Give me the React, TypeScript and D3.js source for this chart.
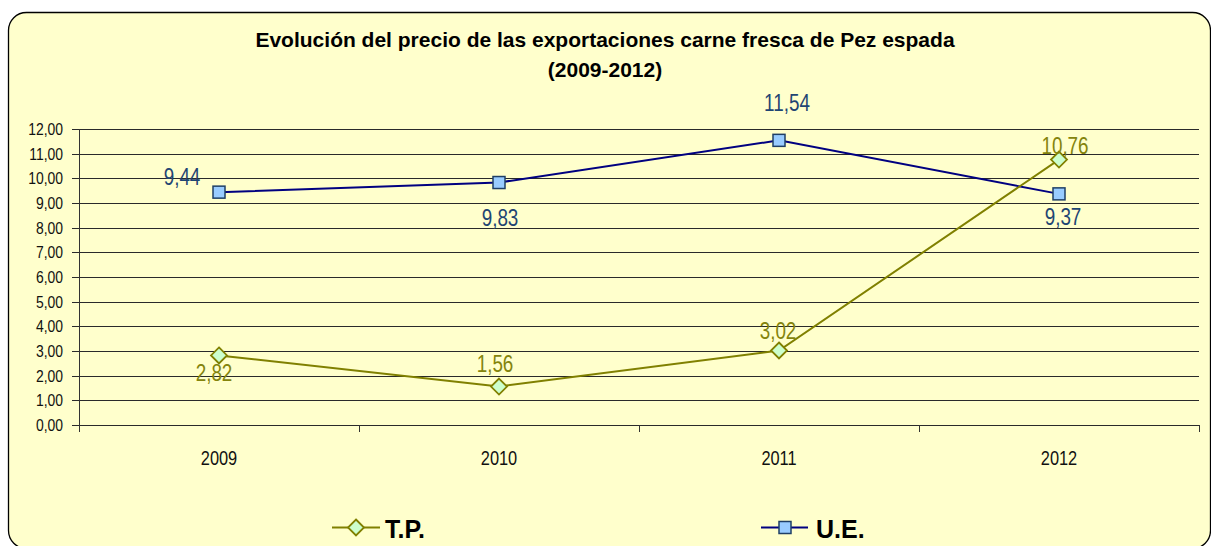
import React from "react";
import * as d3 from "d3";

const years = ["2009", "2010", "2011", "2012"];
const tpValues = [2.82, 1.56, 3.02, 10.76];
const ueValues = [9.44, 9.83, 11.54, 9.37];
const yTicks = [0, 1, 2, 3, 4, 5, 6, 7, 8, 9, 10, 11, 12];
const titleLines = [
  "Evolución del precio de las exportaciones carne fresca de Pez espada",
  "(2009-2012)",
];
const seriesNames = ["T.P.", "U.E."];
// label offsets (style): [dx, dy] relative to point, for the text centre
const tpLabelOffsets = [[-5, 18], [-4, -23], [-1, -20], [6, -14]];
const ueLabelOffsets = [[-37, -15], [1, 35], [8, -37], [4, 23]];

const W = 1211;
const H = 546;
const SANS = "'Liberation Sans', Arial, sans-serif";
const SQUEEZE = 0.82;

const fmt = (v: number) => v.toFixed(2).replace(".", ",");

function NText(props: {
  x: number;
  y: number;
  size: number;
  fill: string;
  anchor?: string;
  children: React.ReactNode;
}) {
  return (
    <text
      transform={`translate(${props.x},${props.y}) scale(${SQUEEZE},1)`}
      textAnchor={props.anchor ?? "middle"}
      fontFamily={SANS}
      fontSize={props.size}
      fill={props.fill}
    >
      {props.children}
    </text>
  );
}

export default function App() {
  const left = 79, right = 1199, top = 129, bottom = 425;
  const x = d3.scaleBand<string>().domain(years).range([left, right]);
  const y = d3.scaleLinear().domain([0, 12]).range([bottom, top]);
  const cx = (yr: string) => (x(yr) ?? 0) + x.bandwidth() / 2;
  const line = d3
    .line<number>()
    .x((_, i) => cx(years[i]))
    .y((d) => y(d));

  const tpColor = "#808000";
  const ueColor = "#000080";
  const tpLabel = "#84840c";
  const ueLabel = "#1f4573";

  const diamond = (px: number, py: number, r: number) =>
    `M${px},${py - r}L${px + r},${py}L${px},${py + r}L${px - r},${py}Z`;

  const boundaries = [...years.map((yr) => x(yr) ?? 0), right];

  return (
    <svg
      width={W}
      height={H}
      style={{ position: "absolute", left: 0, top: 0, display: "block" }}
    >
      <rect x={0} y={0} width={W} height={H} fill="#ffffff" />
      <rect
        x={8.5}
        y={12.5}
        width={1202}
        height={536}
        rx={18}
        ry={18}
        fill="#ffffcc"
        stroke="#000"
        strokeWidth={1.3}
      />
      {/* title */}
      <text
        x={605}
        y={47}
        textAnchor="middle"
        fontFamily={SANS}
        fontWeight="bold"
        fontSize={21}
        fill="#000"
      >
        {titleLines[0]}
      </text>
      <text
        x={605}
        y={77}
        textAnchor="middle"
        fontFamily={SANS}
        fontWeight="bold"
        fontSize={21}
        fill="#000"
      >
        {titleLines[1]}
      </text>

      {/* gridlines */}
      {yTicks.map((t) => (
        <g key={t}>
          <line
            x1={left - 7}
            x2={right}
            y1={Math.round(y(t)) + 0.5}
            y2={Math.round(y(t)) + 0.5}
            stroke="#2a2a2a"
            strokeWidth={1}
          />
          <NText x={63} y={Math.round(y(t)) + 6} size={17} fill="#111" anchor="end">
            {fmt(t)}
          </NText>
        </g>
      ))}
      {/* y axis */}
      <line x1={left + 0.5} x2={left + 0.5} y1={top} y2={bottom + 7} stroke="#333" strokeWidth={1} />
      {/* x axis ticks */}
      {boundaries.map((b, i) => (
        <line
          key={i}
          x1={Math.round(b) + 0.5}
          x2={Math.round(b) + 0.5}
          y1={bottom}
          y2={bottom + 7}
          stroke="#333"
          strokeWidth={1}
        />
      ))}
      {years.map((yr) => (
        <NText key={yr} x={cx(yr)} y={465} size={20} fill="#111">
          {yr}
        </NText>
      ))}

      {/* series lines */}
      <path d={line(ueValues) ?? ""} fill="none" stroke={ueColor} strokeWidth={2} />
      <path d={line(tpValues) ?? ""} fill="none" stroke={tpColor} strokeWidth={2} />

      {/* markers */}
      {ueValues.map((v, i) => (
        <rect
          key={"ue" + i}
          x={cx(years[i]) - 6}
          y={y(v) - 6}
          width={12}
          height={12}
          fill="#99ccff"
          stroke="#1f3f66"
          strokeWidth={1.5}
        />
      ))}
      {tpValues.map((v, i) => (
        <path
          key={"tp" + i}
          d={diamond(cx(years[i]), y(v), 8)}
          fill="#ccffcc"
          stroke={tpColor}
          strokeWidth={1.8}
        />
      ))}

      {/* data labels */}
      {ueValues.map((v, i) => (
        <NText
          key={"uel" + i}
          x={cx(years[i]) + ueLabelOffsets[i][0]}
          y={y(v) + ueLabelOffsets[i][1] + 8}
          size={23}
          fill={ueLabel}
        >
          {fmt(v)}
        </NText>
      ))}
      {tpValues.map((v, i) => (
        <NText
          key={"tpl" + i}
          x={cx(years[i]) + tpLabelOffsets[i][0]}
          y={y(v) + tpLabelOffsets[i][1] + 8}
          size={23}
          fill={tpLabel}
        >
          {fmt(v)}
        </NText>
      ))}

      {/* legend */}
      <g>
        <line x1={332} x2={380} y1={527.5} y2={527.5} stroke={tpColor} strokeWidth={2} />
        <path d={diamond(356, 527.5, 8)} fill="#ccffcc" stroke={tpColor} strokeWidth={1.8} />
        <text x={385} y={538} fontFamily={SANS} fontWeight="bold" fontSize={25} fill="#000">
          {seriesNames[0]}
        </text>
        <line x1={761} x2={808} y1={527.5} y2={527.5} stroke={ueColor} strokeWidth={2} />
        <rect x={779} y={521.5} width={12} height={12} fill="#99ccff" stroke="#1f3f66" strokeWidth={1.5} />
        <text x={816} y={538} fontFamily={SANS} fontWeight="bold" fontSize={25} fill="#000">
          {seriesNames[1]}
        </text>
      </g>
    </svg>
  );
}
